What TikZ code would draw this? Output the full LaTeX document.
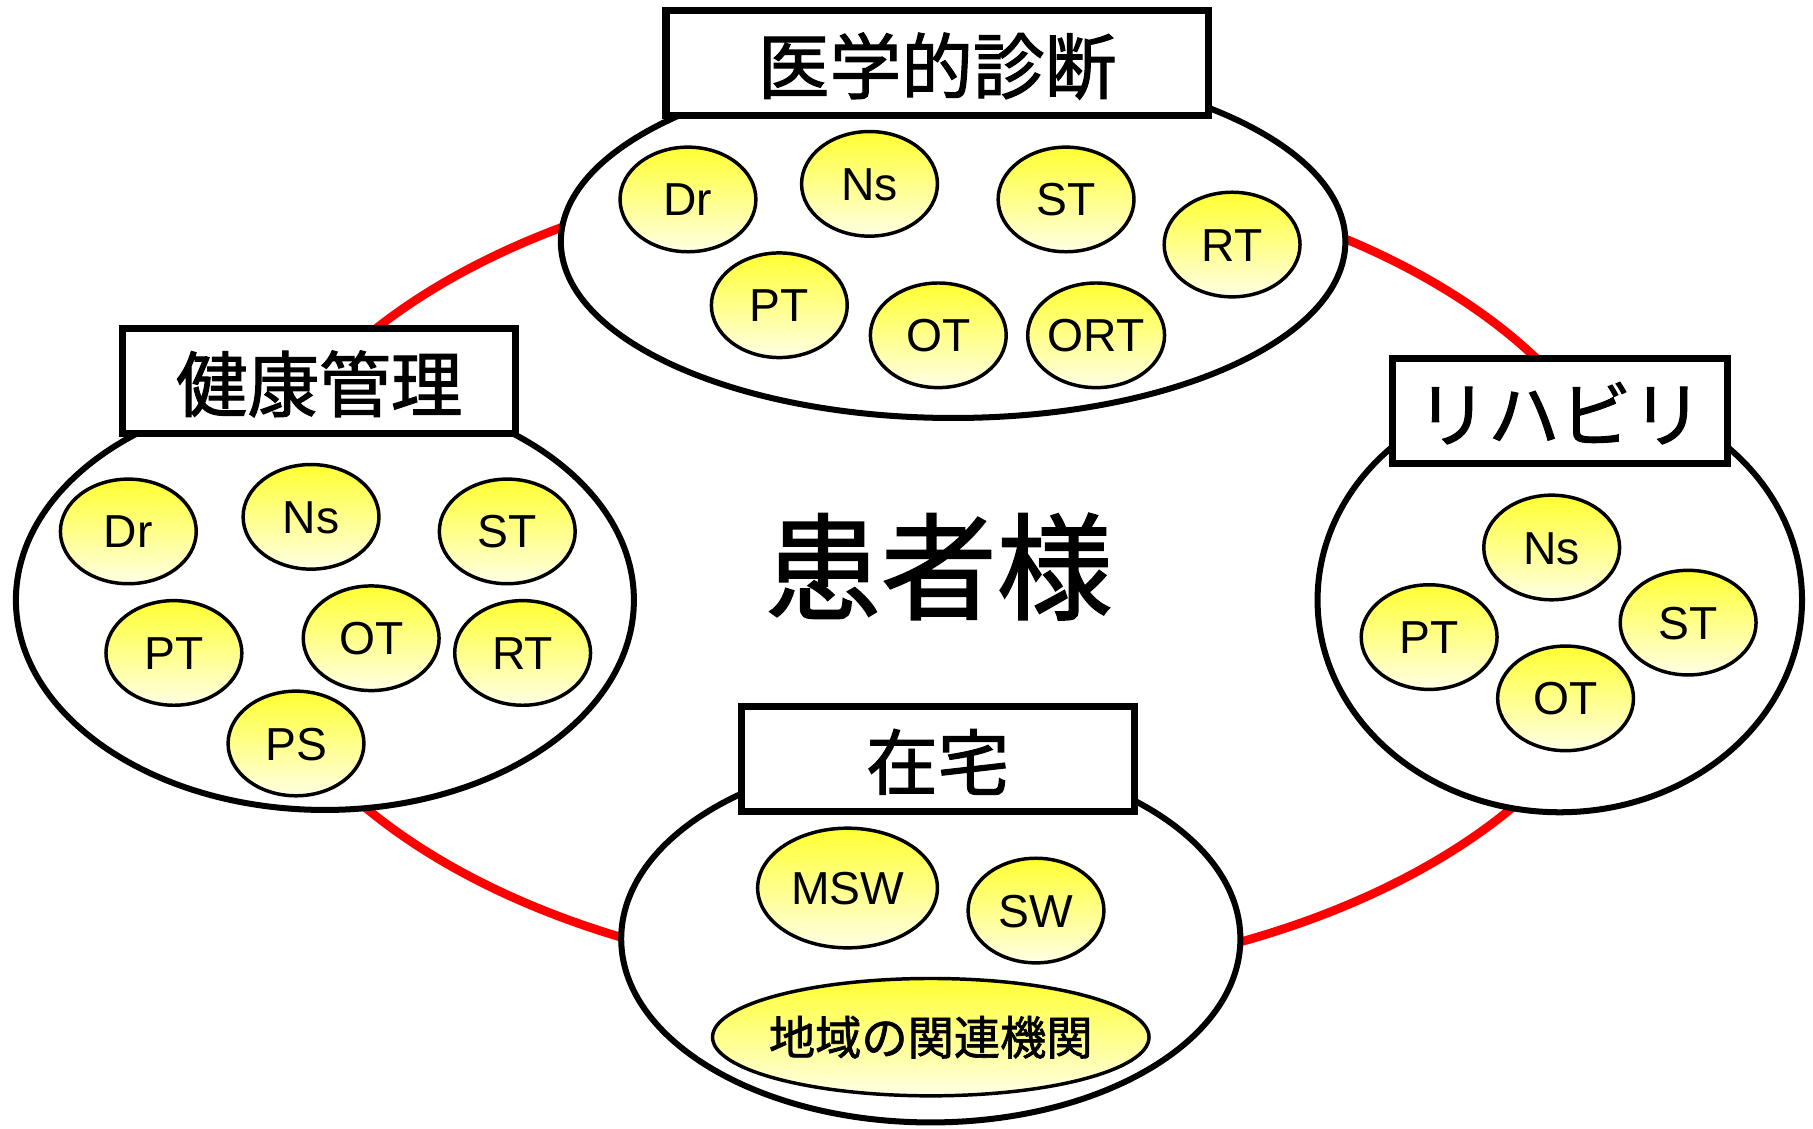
\documentclass[tikz,border=0pt]{standalone}
\usepackage{fontspec}
\setmainfont{Liberation Sans}
\newfontfamily\jp[FakeBold=1.5]{Noto Sans CJK JP}
\usetikzlibrary{shapes.geometric}
\definecolor{yelTop}{RGB}{255,255,50}
\definecolor{yelBot}{RGB}{255,255,228}
\tikzset{
  redring/.style={draw=red, line width=7.5pt},
  groupell/.style={ellipse, draw=black, line width=5.2pt, fill=white, inner sep=0pt, outer sep=0pt},
  titlebox/.style={rectangle, draw=black, line width=6.2pt, fill=white, inner sep=0pt,
     minimum height=91pt, font=\jp\fontsize{62}{62}\selectfont, text height=57.1pt, text depth=4.9pt},
  member/.style={ellipse, draw=black, line width=3pt, top color=yelTop, bottom color=yelBot,
     inner sep=0pt, outer sep=0pt, minimum width=117.5pt, minimum height=90.5pt,
     font=\fontsize{40}{40}\selectfont, text height=28.6pt, text depth=0pt},
  biglabel/.style={font=\jp\fontsize{100}{100}\selectfont, inner sep=0pt, text height=88pt, text depth=12pt},
  orglabel/.style={font=\jp\fontsize{40}{40}\selectfont, inner sep=0pt, text height=35.2pt, text depth=4.8pt}
}
\begin{document}
\begin{tikzpicture}[x=1pt,y=-1pt]
\useasboundingbox[fill=white] (0,0) rectangle (1568,976);
% red ring behind everything
\node[ellipse, redring, minimum width=1212pt, minimum height=708pt, inner sep=0pt] (ring) at (812,495) {};
% group ellipses
\node[groupell, minimum width=678.5pt, minimum height=305pt] (gtop) at (824.3,209) {};
\node[groupell, minimum width=534.5pt, minimum height=363pt] (gleft) at (281,519) {};
\node[groupell, minimum width=419pt, minimum height=367pt] (gright) at (1349,519) {};
\node[groupell, minimum width=535.5pt, minimum height=317.5pt] (gbot) at (805,812) {};
% title boxes
\node[titlebox, minimum width=469pt] (ttop) at (810.5,54.5) {医学的診断};
\node[titlebox, minimum width=340pt] (tleft) at (276,329.5) {健康管理};
\node[titlebox, minimum width=290pt] (tright) at (1349,355.5) {リハビリ};
\node[titlebox, minimum width=340pt] (tbot) at (811,656.5) {在宅};
% centre label
\node[biglabel] (patient) at (812,490) {患者様};
% top group members
\node[member] (t1) at (595,172.5) {Dr};
\node[member] (t2) at (752,159) {Ns};
\node[member] (t3) at (922,172.5) {ST};
\node[member] (t4) at (1065.6,211.5) {RT};
\node[member] (t5) at (674,264) {PT};
\node[member] (t6) at (811.5,290) {OT};
\node[member] (t7) at (948,290) {ORT};
% left group members
\node[member] (l1) at (111,459.6) {Dr};
\node[member] (l2) at (269,447) {Ns};
\node[member] (l3) at (438.7,459.6) {ST};
\node[member] (l4) at (150.4,564.7) {PT};
\node[member] (l5) at (321,552) {OT};
\node[member] (l6) at (452,564.7) {RT};
\node[member] (l7) at (256,643) {PS};
% right group members
\node[member] (r1) at (1342,473.5) {Ns};
\node[member] (r2) at (1236,551) {PT};
\node[member] (r3) at (1460,538.5) {ST};
\node[member] (r4) at (1354,604) {OT};
% bottom group members
\node[member, minimum width=155.5pt, minimum height=103.5pt] (b1) at (733,768) {MSW};
\node[member, minimum height=90.5pt] (b2) at (896,787.5) {SW};
\node[member, minimum width=377.5pt, minimum height=101.5pt] (b3) at (805,897) {};
\node[orglabel] (b3t) at (b3.center) {地域の関連機関};
\end{tikzpicture}
\end{document}
